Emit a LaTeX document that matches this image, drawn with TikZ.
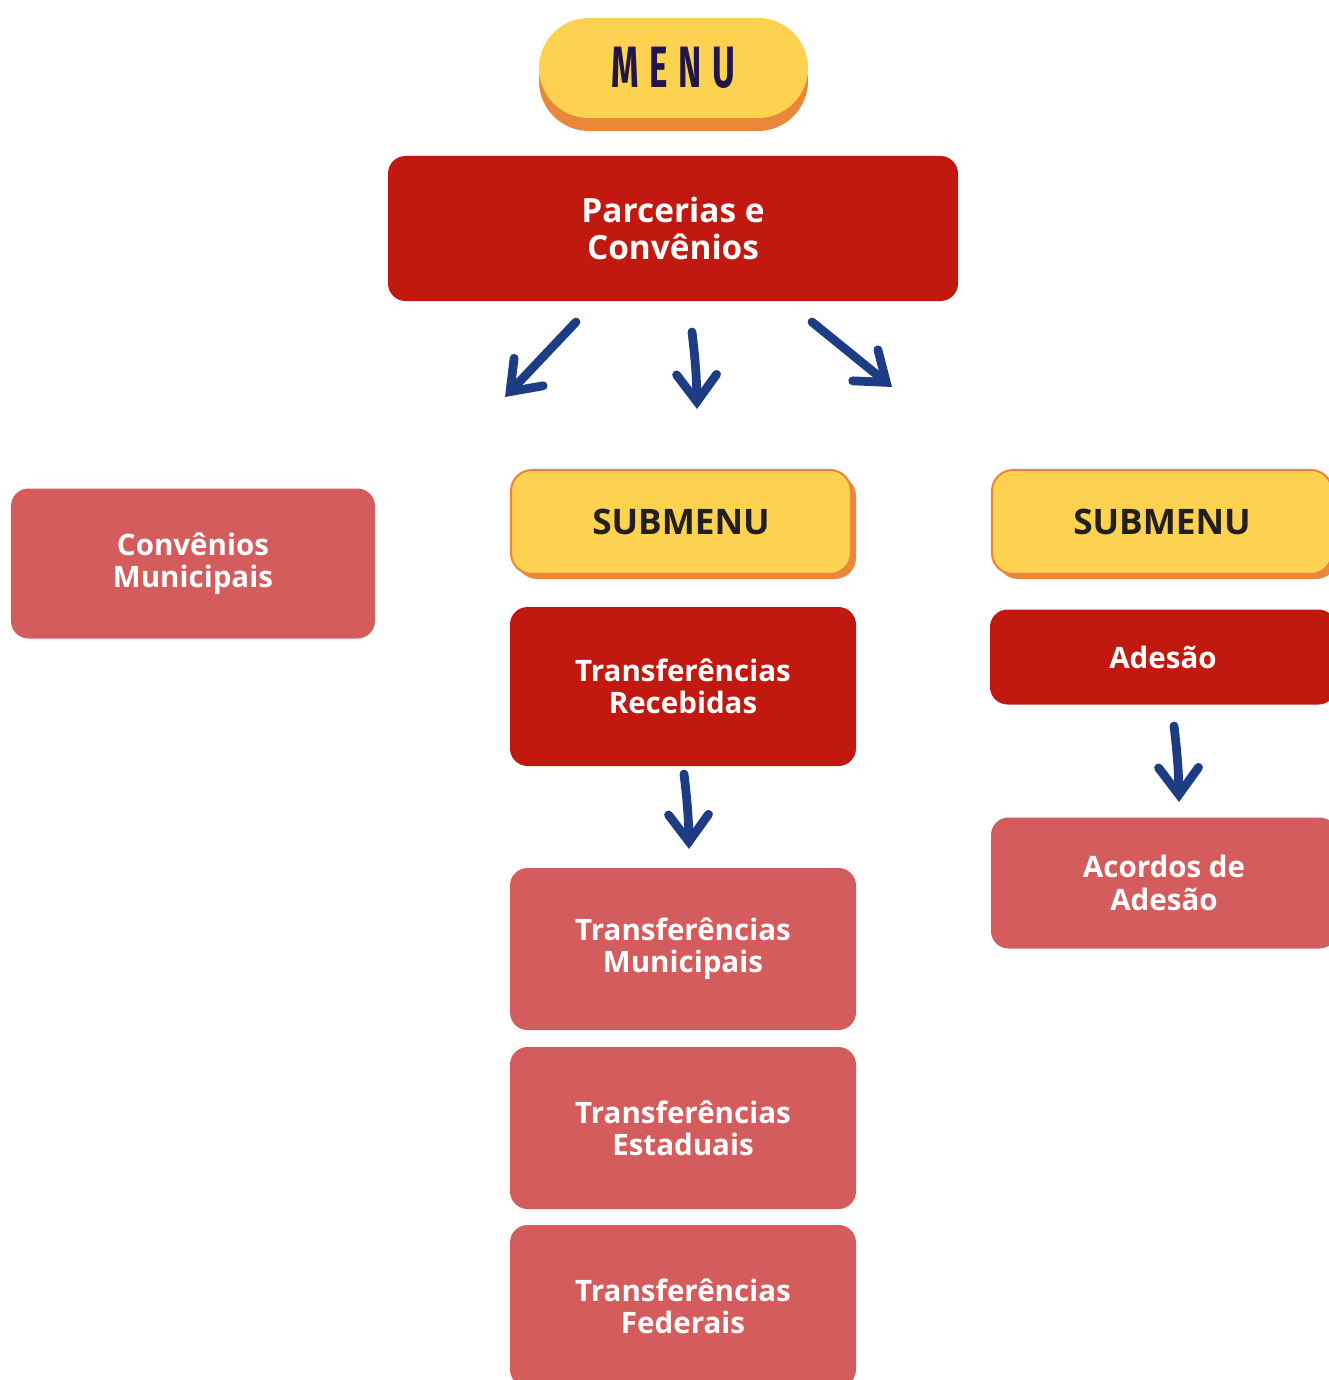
\documentclass[tikz,border=0pt]{standalone}
\usepackage{fontspec}
\setmainfont{Open Sans}
\newfontfamily\menufont{Fira Sans}
\usepackage{tikz}
\usetikzlibrary{arrows.meta,positioning}
\definecolor{DarkRed}{HTML}{C1190F}
\definecolor{Rose}{HTML}{D45C5C}
\definecolor{Sun}{HTML}{FCD250}
\definecolor{Amber}{HTML}{EB873A}
\definecolor{Navy}{HTML}{1D3C84}
\definecolor{Ink}{HTML}{21154A}
\definecolor{Coal}{HTML}{231F20}

\begin{document}
\begin{tikzpicture}[
    box/.style={rounded corners=5pt,minimum width=3.46cm,align=center,text=white,
      font=\fontsize{8.4}{9.2}\selectfont\bfseries},
    mainbox/.style={box,fill=DarkRed},
    leafbox/.style={box,fill=Rose},
    subbox/.style={rounded corners=6pt,minimum width=3.40cm,minimum height=1.04cm,
      fill=Sun,draw=Amber,line width=0.6pt,text=Coal,font=\fontsize{10}{12}\selectfont\bfseries},
    subshadow/.style={rounded corners=6pt,minimum width=3.40cm,minimum height=1.04cm,fill=Amber},
    handarrow/.style={Navy,line width=2.5pt,line cap=round,
      -{Straight Barb[length=2.7mm,width=4.0mm,line cap=round]}}
  ]
  \useasboundingbox (0,0) rectangle (13.29,-13.80);
  \clip (0,0) rectangle (13.29,-13.80);

  % top menu pill
  \node[rounded corners=0.5cm,minimum width=2.69cm,minimum height=1.00cm,fill=Amber] (menushadow) at (6.735,-0.81) {};
  \node[rounded corners=0.5cm,minimum width=2.69cm,minimum height=1.00cm,fill=Sun,text=Ink] (menu) at (6.735,-0.68)
    {\scalebox{0.6}[1]{\menufont\fontsize{16.6}{18}\selectfont\bfseries\addfontfeature{LetterSpace=30}MENU}};

  \node[mainbox,minimum width=5.70cm,minimum height=1.45cm,
    font=\fontsize{9.5}{10.3}\selectfont\bfseries] (parcerias) at (6.73,-2.285) {Parcerias e\\Convênios};

  % arrows below the main box
  \coordinate (a1s) at (5.76,-3.22);
  \coordinate (a1e) at (5.05,-3.97);
  \coordinate (a2s) at (6.92,-3.32);
  \coordinate (a2e) at (6.97,-4.09);
  \coordinate (a3s) at (8.12,-3.22);
  \coordinate (a3e) at (8.92,-3.87);
  \draw[handarrow] (a1s) -- (a1e);
  \draw[handarrow] (a2s) to[bend left=3] (a2e);
  \draw[handarrow] (a3s) -- (a3e);

  % left column
  \node[leafbox,minimum width=3.64cm,minimum height=1.50cm] (convmun) at (1.93,-5.635) {Convênios\\Municipais};

  % middle column
  \node[subshadow] (sub1shadow) at (6.86,-5.27) {};
  \node[subbox] (sub1) at (6.81,-5.22) {SUBMENU};
  \node[mainbox,minimum height=1.59cm] (recebidas) at (6.83,-6.865) {Transferências\\Recebidas};
  \coordinate (a4s) at (6.84,-7.74);
  \coordinate (a4e) at (6.89,-8.49);
  \draw[handarrow] (a4s) to[bend left=3] (a4e);
  \node[leafbox,minimum height=1.62cm] (municipais) at (6.83,-9.49) {Transferências\\Municipais};
  \node[leafbox,minimum height=1.62cm] (estaduais) at (6.83,-11.28) {Transferências\\Estaduais};
  \node[leafbox,minimum height=1.62cm] (federais) at (6.83,-13.06) {Transferências\\Federais};

  % right column
  \node[subshadow] (sub2shadow) at (11.67,-5.27) {};
  \node[subbox] (sub2) at (11.62,-5.22) {SUBMENU};
  \node[mainbox,minimum width=3.46cm,minimum height=0.95cm] (adesao) at (11.63,-6.57) {Adesão};
  \coordinate (a5s) at (11.74,-7.26);
  \coordinate (a5e) at (11.79,-8.02);
  \draw[handarrow] (a5s) to[bend left=3] (a5e);
  \node[leafbox,minimum height=1.31cm] (acordos) at (11.64,-8.83) {Acordos de\\Adesão};
\end{tikzpicture}
\end{document}
